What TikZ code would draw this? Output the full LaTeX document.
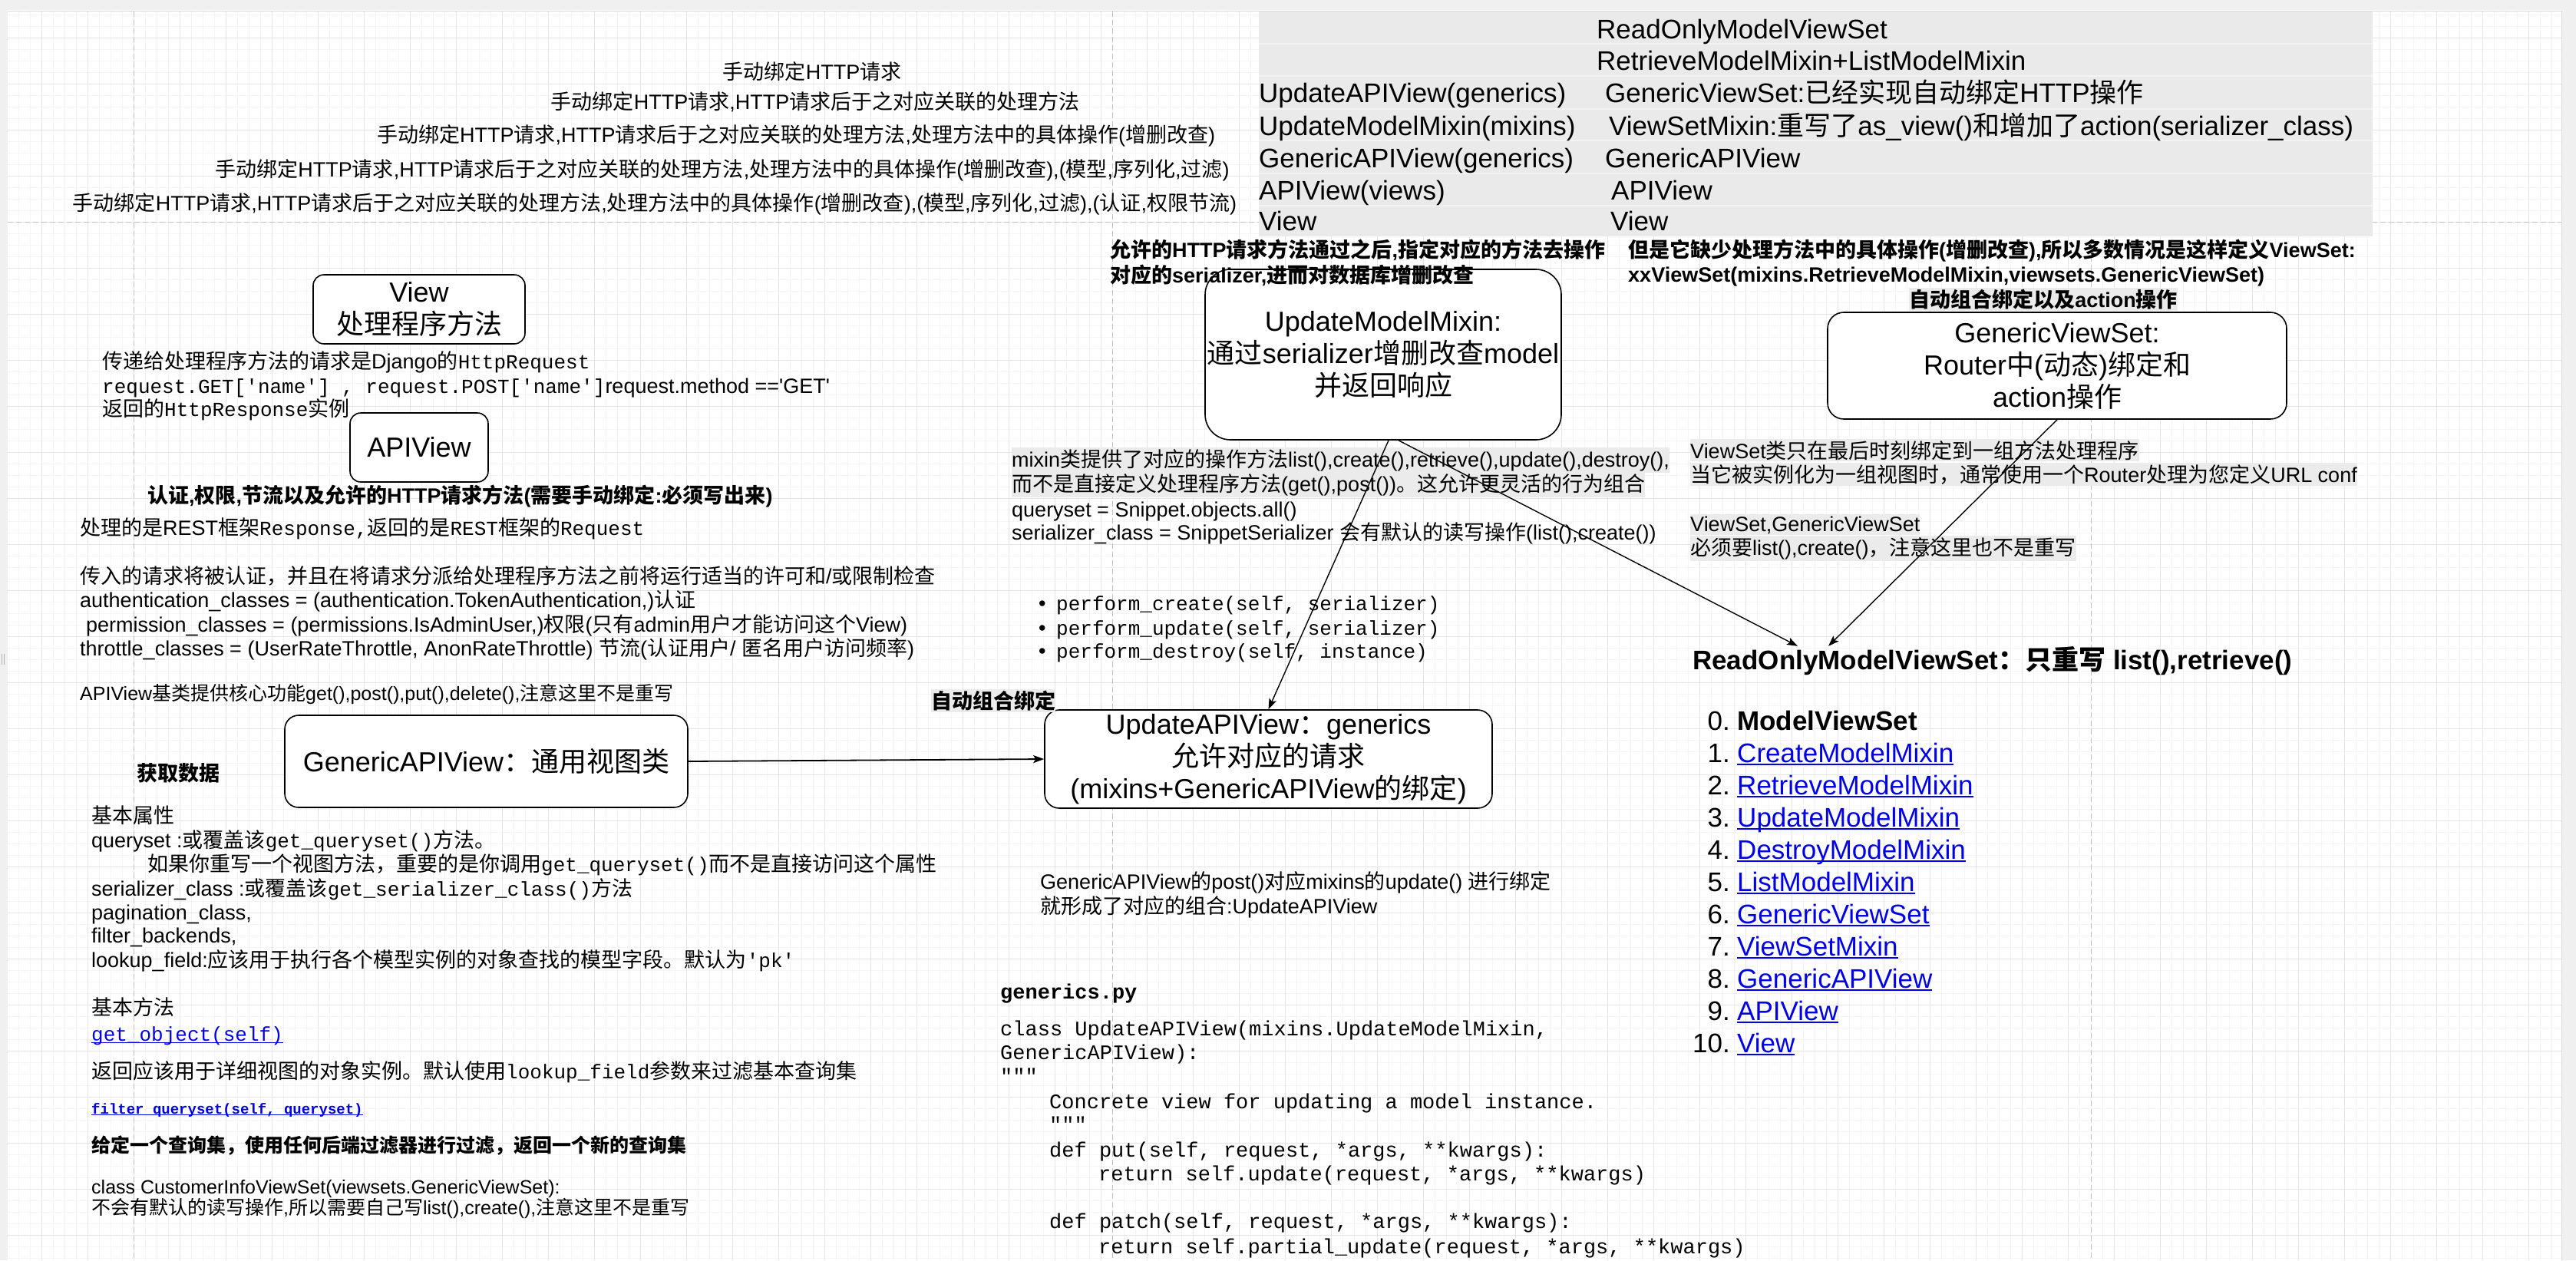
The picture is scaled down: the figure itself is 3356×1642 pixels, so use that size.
\documentclass[tikz,border=0pt]{standalone}
\usepackage{fontspec}
\setmainfont{Liberation Sans}
\setmonofont{Liberation Mono}
\newfontfamily\cjkfam{Noto Sans CJK SC}
\usetikzlibrary{arrows.meta}

% automatic switch to the CJK font for CJK characters
\XeTeXinterchartokenstate=1
\chardef\cjkclass=7
\count255="3000
\loop\XeTeXcharclass\count255=\cjkclass \advance\count255 by 1 \ifnum\count255<"3040 \repeat
\count255="4E00
\loop\XeTeXcharclass\count255=\cjkclass \advance\count255 by 1 \ifnum\count255<"A000 \repeat
\count255="FF00
\loop\XeTeXcharclass\count255=\cjkclass \advance\count255 by 1 \ifnum\count255<"FFF0 \repeat
\XeTeXinterchartoks 0 \cjkclass={\begingroup\cjkfam}
\XeTeXinterchartoks 4095 \cjkclass={\begingroup\cjkfam}
\XeTeXinterchartoks 255 \cjkclass={\begingroup\cjkfam}
\XeTeXinterchartoks \cjkclass 0={\endgroup}
\XeTeXinterchartoks \cjkclass 4095={\endgroup}
\XeTeXinterchartoks \cjkclass 255={\endgroup}

\definecolor{hl}{RGB}{235,235,235}
\definecolor{tablefill}{RGB}{234,234,234}
\definecolor{tableline}{RGB}{243,243,243}
\definecolor{gridminor}{RGB}{245,245,245}
\definecolor{gridmajor}{RGB}{229,229,229}
\definecolor{pbcol}{RGB}{192,192,192}
\definecolor{linkblue}{RGB}{0,0,230}
\definecolor{chrome}{RGB}{240,240,240}

\newcommand\mono[1]{{\ttfamily\fontsize{26}{30}\selectfont #1}}
\newcommand\ulink[1]{{\color{linkblue}\setbox0=\hbox{#1}\rlap{\rule[-0.12em]{\wd0}{0.055em}}\box0}}

\tikzset{
  txt/.style={inner sep=0pt, anchor=base west, font=\fontsize{27}{32}\selectfont},
  txtb/.style={txt, font=\fontsize{27}{32}\selectfont\bfseries},
  txts/.style={txt, font=\fontsize{25}{30}\selectfont},
  tabtxt/.style={txt, font=\fontsize{35}{40}\selectfont},
  listtxt/.style={txt, font=\fontsize{35}{40}\selectfont},
  codetxt/.style={txt, font=\ttfamily\fontsize{27}{32}\selectfont},
  hlbg/.style={fill=hl, inner ysep=2pt},
  roundbox/.style={draw=black, line width=1.6pt, fill=white, align=center,
    inner sep=0pt, font=\fontsize{36}{42}\selectfont},
  conn/.style={line width=1.4pt, -{Stealth[length=14pt,width=10pt,inset=3pt]}},
  pagebreak/.style={draw=pbcol, line width=1pt, dash pattern=on 7pt off 4pt},
}

\begin{document}
\begin{tikzpicture}[x=1pt,y=-1pt]
\useasboundingbox (0,0) rectangle (3356,1642);
% canvas and chrome
\fill[white] (0,0) rectangle (3356,1642);
\fill[chrome] (0,0) rectangle (3356,13);
\fill[chrome] (0,0) rectangle (10,1642);
\fill[chrome] (3337,0) rectangle (3356,1642);
\draw[gray!30, line width=1pt] (10,14) -- (3337,14);
\draw[gray!30, line width=1pt] (3337,14) -- (3337,1642);
\draw[gray!60, line width=1pt] (2,852) -- (2,866) (5,852) -- (5,866);
% grid
\begin{scope}
  \clip (10,15) rectangle (3337,1642);
  \foreach \k in {0,...,222} \draw[gridminor, line width=1pt] ({9+15*\k},15) -- ({9+15*\k},1642);
  \foreach \k in {0,...,109} \draw[gridminor, line width=1pt] (10,{4+15*\k}) -- (3337,{4+15*\k});
  \foreach \k in {0,...,54} \draw[gridmajor, line width=1pt] ({54+60*\k},15) -- ({54+60*\k},1642);
  \foreach \k in {0,...,27} \draw[gridmajor, line width=1pt] (10,{49+60*\k}) -- (3337,{49+60*\k});
\end{scope}
% page breaks
\draw[pagebreak] (174,15) -- (174,1642);
\draw[pagebreak] (1449,15) -- (1449,1642);
\draw[pagebreak] (2724,15) -- (2724,1642);
\draw[pagebreak] (10,289) -- (3337,289);

% ---------- boxes (drawn first, texts lie over them) ----------
\node[roundbox, rounded corners=14pt, minimum width=276, minimum height=90] (view) at (546,403) {View\\处理程序方法};
\node[roundbox, rounded corners=14pt, minimum width=180, minimum height=90] (apiview) at (546,583) {APIView};
\node[roundbox, rounded corners=18pt, minimum width=525, minimum height=120] (gav) at (633.5,992) {GenericAPIView：通用视图类};
\node[roundbox, rounded corners=33pt, minimum width=464, minimum height=222] (umm) at (1802,462) {UpdateModelMixin:\\通过serializer增删改查model\\并返回响应};
\node[roundbox, rounded corners=19pt, minimum width=583, minimum height=128] (uav) at (1652.5,989) {UpdateAPIView：generics\\允许对应的请求\\(mixins+GenericAPIView的绑定)};
\node[roundbox, rounded corners=21pt, minimum width=598, minimum height=139] (gvs) at (2680,476.5) {GenericViewSet:\\Router中(动态)绑定和\\action操作};

% ---------- top centered headings ----------
\node[txt, anchor=base] (h1) at (1058,103) {手动绑定HTTP请求};
\node[txt, anchor=base] (h2) at (1062,142) {手动绑定HTTP请求,HTTP请求后于之对应关联的处理方法};
\node[txt, anchor=base] (h3) at (1037,185) {手动绑定HTTP请求,HTTP请求后于之对应关联的处理方法,处理方法中的具体操作(增删改查)};
\node[txt, anchor=base] (h4) at (941,230) {手动绑定HTTP请求,HTTP请求后于之对应关联的处理方法,处理方法中的具体操作(增删改查),(模型,序列化,过滤)};
\node[txt, anchor=base] (h5) at (853,274) {手动绑定HTTP请求,HTTP请求后于之对应关联的处理方法,处理方法中的具体操作(增删改查),(模型,序列化,过滤),(认证,权限节流)};

% ---------- top right table ----------
\fill[tablefill] (1640,15) rectangle (3091,308);
\foreach \yy in {57,99,142,183,226,268} \draw[tableline, line width=1.2pt] (1640,\yy) -- (3091,\yy);
\node[tabtxt] (tr1b) at (2080,50) {ReadOnlyModelViewSet};
\node[tabtxt] (tr2b) at (2080,91) {RetrieveModelMixin+ListModelMixin};
\node[tabtxt] (tr3a) at (1640,133) {UpdateAPIView(generics)};
\node[tabtxt] (tr3b) at (2091,133) {GenericViewSet:已经实现自动绑定HTTP操作};
\node[tabtxt] (tr4a) at (1640,176) {UpdateModelMixin(mixins)};
\node[tabtxt] (tr4b) at (2096,176) {ViewSetMixin:重写了as\_view()和增加了action(serializer\_class)};
\node[tabtxt] (tr5a) at (1640,218) {GenericAPIView(generics)};
\node[tabtxt] (tr5b) at (2091,218) {GenericAPIView};
\node[tabtxt] (tr6a) at (1640,260) {APIView(views)};
\node[tabtxt] (tr6b) at (2099,260) {APIView};
\node[tabtxt] (tr7a) at (1640,300) {View};
\node[tabtxt] (tr7b) at (2098,300) {View};

% ---------- left column ----------
\node[txt] (v1) at (133,480) {传递给处理程序方法的请求是Django的\mono{HttpRequest}};
\node[txt] (v2) at (133,512) {\mono{request.GET['name'] , request.POST['name']}request.method ==\textquotesingle GET\textquotesingle};
\node[txt] (v3) at (133,542) {返回的\mono{HttpResponse}实例};
\node[txtb] (a1) at (192,655) {认证,权限,节流以及允许的HTTP请求方法(需要手动绑定:必须写出来)};
\node[txt] (a2) at (104,697) {处理的是REST框架\mono{Response,}返回的是\mono{REST}框架的\mono{Request}};
\node[txt] (p1) at (104,760) {传入的请求将被认证，并且在将请求分派给处理程序方法之前将运行适当的许可和/或限制检查};
\node[txt] (p2) at (104,791) {authentication\_classes = (authentication.TokenAuthentication,)认证};
\node[txt] (p3) at (112,823) {permission\_classes = (permissions.IsAdminUser,)权限(只有admin用户才能访问这个View)};
\node[txt] (p4) at (104,854) {throttle\_classes = (UserRateThrottle, AnonRateThrottle) 节流(认证用户/ 匿名用户访问频率)};
\node[txts] (p5) at (104,912) {APIView基类提供核心功能get(),post(),put(),delete(),注意这里不是重写};
\node[txtb] (fetch) at (178,1017) {获取数据};
\node[txt] (b1) at (119,1072) {基本属性};
\node[txt] (b2) at (119,1104) {queryset :或覆盖该\mono{get\_queryset()}方法。};
\node[txt] (b3) at (192,1135) {如果你重写一个视图方法，重要的是你调用\mono{get\_queryset()}而不是直接访问这个属性};
\node[txt] (b4) at (119,1167) {serializer\_class :或覆盖该\mono{get\_serializer\_class()}方法};
\node[txt] (b5) at (119,1198) {pagination\_class,};
\node[txt] (b6) at (119,1228) {filter\_backends,};
\node[txt] (b7) at (119,1260) {lookup\_field:应该用于执行各个模型实例的对象查找的模型字段。默认为\mono{'pk'}};
\node[txt] (b8) at (119,1322) {基本方法};
\node[txt] (b9) at (119,1356) {\ulink{\mono{get\_object(self)}}};
\node[txt] (b10) at (119,1405) {返回应该用于详细视图的对象实例。默认使用\mono{lookup\_field}参数来过滤基本查询集};
\node[txt, font=\ttfamily\bfseries\fontsize{19}{22}\selectfont] (b11) at (119,1451) {\ulink{filter\_queryset(self, queryset)}};
\node[txts, font=\fontsize{25}{30}\selectfont\bfseries] (b12) at (119,1501) {给定一个查询集，使用任何后端过滤器进行过滤，返回一个新的查询集};
\node[txts] (b13) at (119,1555) {class CustomerInfoViewSet(viewsets.GenericViewSet):};
\node[txts] (b14) at (119,1582) {不会有默认的读写操作,所以需要自己写list(),create(),注意这里不是重写};

% ---------- middle column ----------
\node[txtb] (m1) at (1446,335) {允许的HTTP请求方法通过之后,指定对应的方法去操作};
\node[txtb] (m2) at (1446,368) {对应的serializer,进而对数据库增删改查};
\node[txt, hlbg] (mx1) at (1318,608) {mixin类提供了对应的操作方法list(),create(),retrieve(),update(),destroy(),};
\node[txt, hlbg] (mx2) at (1318,640) {而不是直接定义处理程序方法(get(),post())。这允许更灵活的行为组合};
\node[txt] (mx3) at (1318,673) {queryset = Snippet.objects.all()};
\node[txt] (mx4) at (1318,703) {serializer\_class = SnippetSerializer 会有默认的读写操作(list(),create())};
\node[txt] (bl1) at (1353,795) {\hbox to 23pt{•\hfil}\mono{perform\_create(self, serializer)}};
\node[txt] (bl2) at (1353,827) {\hbox to 23pt{•\hfil}\mono{perform\_update(self, serializer)}};
\node[txt] (bl3) at (1353,857) {\hbox to 23pt{•\hfil}\mono{perform\_destroy(self, instance)}};
\node[txtb, hlbg] (auto1) at (1213,923) {自动组合绑定};
\node[txt] (g1) at (1355,1158) {GenericAPIView的post()对应mixins的update() 进行绑定};
\node[txt] (g2) at (1355,1190) {就形成了对应的组合:UpdateAPIView};
\node[codetxt, font=\ttfamily\bfseries\fontsize{27}{32}\selectfont] (c0) at (1303,1301) {generics.py};
\node[codetxt] (c1) at (1303,1349) {class UpdateAPIView(mixins.UpdateModelMixin,};
\node[codetxt] (c2) at (1303,1380) {GenericAPIView):};
\node[codetxt] (c3) at (1303,1411) {"""};
\node[codetxt] (c4) at (1367,1444) {Concrete view for updating a model instance.};
\node[codetxt] (c5) at (1367,1474) {"""};
\node[codetxt] (c6) at (1367,1507) {def put(self, request, *args, **kwargs):};
\node[codetxt] (c7) at (1431,1538) {return self.update(request, *args, **kwargs)};
\node[codetxt] (c8) at (1367,1600) {def patch(self, request, *args, **kwargs):};
\node[codetxt] (c9) at (1431,1633) {return self.partial\_update(request, *args, **kwargs)};

% ---------- right column ----------
\node[txtb] (r1) at (2121,335) {但是它缺少处理方法中的具体操作(增删改查),所以多数情况是这样定义ViewSet:};
\node[txtb] (r2) at (2121,367) {xxViewSet(mixins.RetrieveModelMixin,viewsets.GenericViewSet)};
\node[txtb, hlbg, anchor=base] (r3) at (2662,400) {自动组合绑定以及action操作};
\node[txt, hlbg] (r4) at (2202,597) {ViewSet类只在最后时刻绑定到一组方法处理程序};
\node[txt, hlbg] (r5) at (2202,628) {当它被实例化为一组视图时，通常使用一个Router处理为您定义URL conf};
\node[txt, hlbg] (r6) at (2202,692) {ViewSet,GenericViewSet};
\node[txt, hlbg] (r7) at (2202,723) {必须要list(),create()，注意这里也不是重写};
\node[txt, font=\fontsize{35}{40}\selectfont\bfseries] (rom) at (2205,872) {ReadOnlyModelViewSet：只重写 list(),retrieve()};

\foreach \i/\lab/\yy in {0/n0/951,1/n1/993,2/n2/1035,3/n3/1077,4/n4/1119,5/n5/1161,6/n6/1203,7/n7/1245,8/n8/1287,9/n9/1329,10/n10/1371}
  \node[listtxt, anchor=base east] (\lab) at (2254,\yy) {\i.};
\node[listtxt, font=\fontsize{35}{40}\selectfont\bfseries] (i0) at (2263,951) {ModelViewSet};
\node[listtxt] (i1) at (2263,993) {\ulink{CreateModelMixin}};
\node[listtxt] (i2) at (2263,1035) {\ulink{RetrieveModelMixin}};
\node[listtxt] (i3) at (2263,1077) {\ulink{UpdateModelMixin}};
\node[listtxt] (i4) at (2263,1119) {\ulink{DestroyModelMixin}};
\node[listtxt] (i5) at (2263,1161) {\ulink{ListModelMixin}};
\node[listtxt] (i6) at (2263,1203) {\ulink{GenericViewSet}};
\node[listtxt] (i7) at (2263,1245) {\ulink{ViewSetMixin}};
\node[listtxt] (i8) at (2263,1287) {\ulink{GenericAPIView}};
\node[listtxt] (i9) at (2263,1329) {\ulink{APIView}};
\node[listtxt] (i10) at (2263,1371) {\ulink{View}};

% ---------- connectors ----------
\draw[conn, line width=1.8pt] (gav.east) -- (uav.west);
\draw[conn] ([xshift=7pt]umm.south) -- (uav.north);
\draw[conn] ([xshift=20pt]umm.south) -- ([xshift=137pt]rom.north west);
\draw[conn] (gvs.south) -- ([xshift=177pt]rom.north west);
\end{tikzpicture}
\end{document}
